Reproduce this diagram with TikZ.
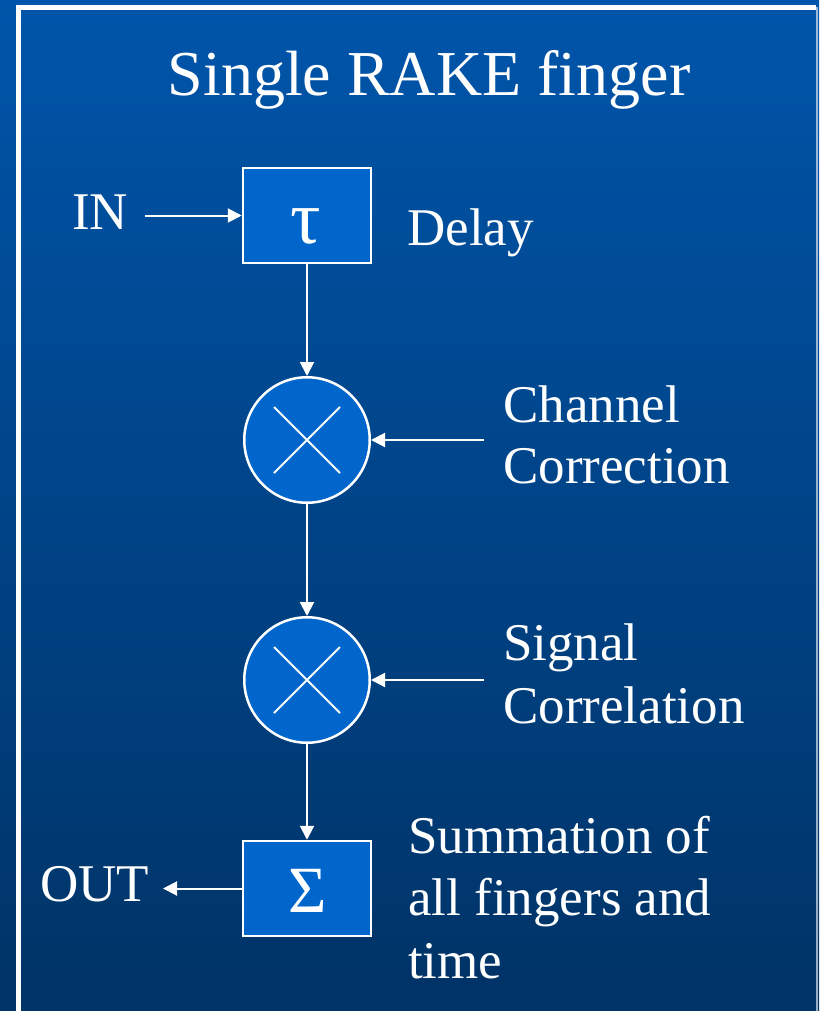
\documentclass[tikz,border=0pt]{standalone}
\usepackage{fontspec}
\setmainfont{LiberationSerif}[Extension=.ttf,UprightFont=*-Regular,Ligatures=NoCommon]
\usetikzlibrary{arrows.meta}
\definecolor{bgtop}{RGB}{0,85,170}
\definecolor{bgbot}{RGB}{0,51,102}
\definecolor{blockfill}{RGB}{0,102,204}
\begin{document}
\begin{tikzpicture}[x=1pt,y=-1pt,
  blockbox/.style={draw=white,line width=2.5pt,fill=blockfill,minimum width=128pt,minimum height=95pt,inner sep=0pt},
  mixer/.style={circle,draw=white,line width=2.5pt,fill=blockfill,minimum size=125.5pt,inner sep=0pt},
  crossline/.style={draw=white,line width=2pt},
  flow/.style={draw=white,line width=2pt,-{Triangle[length=14pt,width=14pt]}},
  lbl/.style={text=white,inner sep=0pt,anchor=base west,font=\fontsize{53}{62}\selectfont},
  symb/.style={text=white,inner sep=0pt,font=\fontsize{66}{66}\selectfont},
]
\useasboundingbox (0,0) rectangle (819,1011);
% background and slide frame
\shade[top color=bgtop,bottom color=bgbot] (0,0) rectangle (819,1011);
\draw[white,line width=5pt] (18.5,1030) -- (18.5,7.5) -- (816,7.5);
\draw[white,opacity=0.6,line width=2pt] (816.5,7.5) -- (816.5,1030);

% title
\node[text=white,inner sep=0pt,anchor=base,font=\fontsize{64}{64}\selectfont] (title) at (429,96) {Single RAKE finger};

% blocks
\node[blockbox] (delay) at (307,215.5) {};
\node[symb,font=\fontsize{76}{76}\selectfont] (tausym) at (306,226) {τ};
\node[mixer] (chmix) at (307,440) {};
\node[mixer] (sgmix) at (307,680) {};
\node[blockbox] (sum) at (307,888.5) {};
\node[symb] (sigsym) at (307.5,891) {Σ};

% multiplier crosses
\foreach \m in {chmix,sgmix}{
  \draw[crossline] ([shift={(-33,-33)}]\m.center) -- ([shift={(33,33)}]\m.center);
  \draw[crossline] ([shift={(33,-33)}]\m.center) -- ([shift={(-33,33)}]\m.center);
}

% labels
\node[lbl] (inlbl) at (72,229) {IN};
\node[lbl] (delaylbl) at (407,245) {Delay};
\node[lbl] (chl1) at (503,422) {Channel};
\node[lbl] (chl2) at (503,483) {Correction};
\node[lbl] (sgl1) at (503,660) {Signal};
\node[lbl] (sgl2) at (503,723) {Correlation};
\node[lbl] (sm1) at (408,853) {Summation of};
\node[lbl] (sm2) at (408,915) {all fingers and};
\node[lbl] (sm3) at (408,978) {time};
\node[lbl] (outlbl) at (40,901) {OUT};

% signal flow
\coordinate (inS) at (145,215.5);
\coordinate (chS) at (484,440);
\coordinate (sgS) at (484,680);
\coordinate (outE) at (163,888.5);
\draw[flow] (inS) -- (delay.west);
\draw[flow] (delay.south) -- (chmix.north);
\draw[flow] (chmix.south) -- (sgmix.north);
\draw[flow] (sgmix.south) -- (sum.north);
\draw[flow] (chS) -- (chmix.east);
\draw[flow] (sgS) -- (sgmix.east);
\draw[flow] (sum.west) -- (outE);
\end{tikzpicture}
\end{document}
